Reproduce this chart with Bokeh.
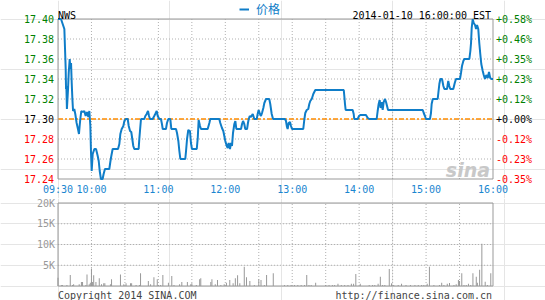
from bokeh.plotting import figure
from bokeh.layouts import column
from bokeh.models import Range1d, Legend, LegendItem
from bokeh.core.properties import value
from bokeh.embed import file_html
from bokeh.resources import INLINE

# ---------------- data ----------------
symbol = "NWS"
stamp = "2014-01-10 16:00:00 EST"
legend_label = "价格"
copyright_text = "Copyright 2014 SINA.COM"
url_text = "http://finance.sina.com.cn"
prev_close = 17.30

# minutes since 09:30
price_t = [
    0, 2.7, 3.6, 4.8, 5.7, 6.3, 6.9, 7.2, 7.5, 8,
    9, 9.6, 10.5, 11.1, 11.7, 12.3, 12.9, 13.5, 14.6, 15.5,
    16.7, 17.9, 18.8, 19.4, 20, 20.9, 22.1, 23.6, 24.8, 26,
    27.2, 28.1, 29, 29.6, 30.2, 31.1, 32.6, 34.1, 35.6, 36.5,
    37.4, 38.5, 40, 40.9, 42.1, 46, 46.9, 47.8, 49, 53.8,
    55, 55.9, 57.1, 58.6, 59.5, 60.7, 62.5, 63.4, 64.6, 65.7,
    66.6, 67.5, 68.4, 72.3, 72.9, 73.5, 74.4, 77.4, 78.3, 79.5,
    80.7, 81.6, 82.5, 84.9, 86.3, 87.2, 88.5, 89.4, 90.8, 92.3,
    93.2, 93.9, 96.8,
    97.7, 98.9, 100.7, 101.6, 105.8, 106.7, 107.9, 108.8, 109.7, 114.1,
    114.8, 115.7, 116.8, 118.3, 119.2, 120.1, 124.4, 125.3, 126.1, 127.3,
    128.2, 134.2, 135.7, 136.5, 144.6, 145.5, 147, 148.2, 149.1, 150,
    151.3, 152.2, 153, 154.2, 155.1, 156, 156.9, 158.1, 159, 159.9,
    164.1, 165, 165.9, 167, 167.9, 169.5, 170.3, 171, 171.9, 173,
    174.6, 176, 178.2, 179, 179.9, 181.1, 182, 182.9, 184.1, 185,
    186.5, 189.4, 190.3, 191.6, 192.8,
    203.5, 204.4, 205.3, 205.9, 206.8, 208, 208.9, 209.8, 219.9, 220.8,
    221.7, 223, 224.4, 225.3, 226.2, 227.5, 228.9, 229.8, 230.7, 256.2,
    256.7, 257.3, 257.9, 264.2, 265.1, 265.6, 268.7, 269.9, 271, 276.1,
    277.7, 279.1, 285.7, 286.6, 287.5, 288.4, 289.3, 290.2, 291.1, 292,
    293.2,
    294.1, 295, 295.9, 327, 327.9, 329, 329.9, 333.5, 334.4, 335,
    336, 340.4, 341, 341.9, 342.8, 344.3, 345.5, 346.4, 348.8, 349.9,
    350.8, 351.7, 354.4, 355.7, 356.8, 360.4, 361.3, 362.2, 363.4, 364.3,
    368.8, 369.7, 370.3, 370.9, 371.8, 372.7, 373.9, 374.8, 375.7, 376.8,
    377.7, 378.6, 379.5, 380.8, 381.7, 382.8, 384, 385.3, 386.4, 387.5,
    388.7, 390,
]
price_v = [
    17.40, 17.40, 17.397, 17.393, 17.39, 17.37, 17.35, 17.33, 17.333, 17.31,
    17.33, 17.346, 17.36, 17.35, 17.356, 17.336, 17.32, 17.308, 17.31, 17.305,
    17.296, 17.29, 17.285, 17.293, 17.30, 17.308, 17.307, 17.308, 17.303, 17.307,
    17.302, 17.308, 17.293, 17.266, 17.248, 17.265, 17.27, 17.27, 17.263, 17.258,
    17.248, 17.24, 17.24, 17.245, 17.25, 17.25, 17.257, 17.263, 17.27, 17.27,
    17.275, 17.285, 17.29, 17.293, 17.298, 17.30, 17.30, 17.293, 17.288, 17.287,
    17.28, 17.273, 17.27, 17.27, 17.28, 17.288, 17.30, 17.30, 17.303, 17.305,
    17.308, 17.303, 17.30, 17.30, 17.303, 17.305, 17.308, 17.303, 17.30, 17.30,
    17.295, 17.29, 17.29,
    17.296, 17.30, 17.30, 17.29, 17.29, 17.286, 17.278, 17.268, 17.26, 17.26,
    17.268, 17.28, 17.289, 17.288, 17.276, 17.27, 17.27, 17.281, 17.299, 17.293,
    17.29, 17.29, 17.296, 17.30, 17.30, 17.296, 17.291, 17.288, 17.283, 17.278,
    17.273, 17.271, 17.276, 17.27, 17.276, 17.273, 17.286, 17.295, 17.298, 17.29,
    17.29, 17.295, 17.298, 17.295, 17.29, 17.29, 17.296, 17.30, 17.303, 17.302,
    17.305, 17.30, 17.30, 17.305, 17.309, 17.305, 17.303, 17.306, 17.311, 17.316,
    17.32, 17.32, 17.315, 17.305, 17.30,
    17.30, 17.298, 17.292, 17.29, 17.296, 17.297, 17.293, 17.29, 17.29, 17.299,
    17.306, 17.309, 17.31, 17.315, 17.318, 17.32, 17.325, 17.327, 17.329, 17.329,
    17.323, 17.315, 17.309, 17.309, 17.305, 17.30, 17.30, 17.303, 17.304, 17.304,
    17.301, 17.30, 17.30, 17.308, 17.315, 17.319, 17.311, 17.317, 17.309, 17.317,
    17.32,
    17.317, 17.313, 17.309, 17.309, 17.306, 17.303, 17.30, 17.30, 17.306, 17.315,
    17.32, 17.32, 17.326, 17.335, 17.34, 17.34, 17.333, 17.33, 17.33, 17.338,
    17.333, 17.33, 17.33, 17.336, 17.34, 17.34, 17.346, 17.353, 17.358, 17.36,
    17.36, 17.368, 17.376, 17.391, 17.40, 17.396, 17.394, 17.39, 17.394, 17.39,
    17.376, 17.365, 17.355, 17.348, 17.344, 17.34, 17.344, 17.341, 17.347, 17.341,
    17.34, 17.34,
]

vol_t = [
    0, 3, 4, 8, 11, 13, 14, 19, 21, 22,
    25, 26, 28, 29, 30, 31, 32, 34, 37, 39,
    41, 42, 47, 48, 56, 59, 61, 65, 66, 70,
    73, 74, 81, 83, 86, 89, 90, 92, 94, 99,
    102, 104, 109, 111, 116, 119, 120, 124, 127, 128,
    137, 138, 141, 143, 146, 149, 151, 154, 157, 159,
    161, 163, 167, 169, 172, 176, 180, 182, 185, 187,
    193, 203, 206, 209, 212, 215, 218, 221, 223, 225,
    227, 231, 240, 243, 246, 248, 251, 254, 257, 260,
    263, 265, 267, 271, 279, 282, 284, 287, 289, 291,
    293, 297, 299, 301, 305, 308, 312, 316, 320, 323,
    326, 328, 331, 333, 337, 342, 344, 346, 349, 351,
    355, 357, 359, 360, 362, 364, 366, 368, 370, 372,
    375, 376, 378, 380, 383, 385, 388,
]
vol_v = [
    2000, 240, 240, 240, 2650, 240, 400, 400, 960, 960,
    240, 2800, 400, 800, 4200, 960, 2600, 960, 1850, 400,
    640, 640, 400, 1600, 2800, 400, 640, 640, 640, 240,
    240, 3100, 1200, 400, 2100, 1600, 240, 240, 2650, 800,
    2400, 240, 400, 960, 960, 400, 640, 240, 1600, 1850,
    960, 1600, 400, 1450, 240, 400, 800, 1450, 640, 1850,
    2600, 640, 4660, 2100, 1200, 240, 1600, 1450, 240, 2650,
    3100, 240, 240, 240, 240, 240, 240, 240, 2650, 240,
    240, 800, 240, 240, 240, 240, 560, 240, 240, 240,
    560, 560, 2900, 560, 240, 240, 240, 560, 2250, 240,
    240, 4100, 640, 240, 240, 560, 240, 240, 240, 240,
    240, 240, 560, 4660, 240, 240, 800, 240, 560, 720,
    240, 400, 1450, 1200, 3100, 240, 240, 560, 240, 3100,
    2250, 800, 3900, 10200, 1050, 240, 3100,
]

price_ticks = [17.40, 17.38, 17.36, 17.34, 17.32, 17.30, 17.28, 17.26, 17.24]
price_labels = ["17.40", "17.38", "17.36", "17.34", "17.32", "17.30", "17.28", "17.26", "17.24"]
pct_labels = ["+0.58%", "+0.46%", "+0.35%", "+0.23%", "+0.12%", "+0.00%", "-0.12%", "-0.23%", "-0.35%"]
time_ticks = [0, 30, 90, 150, 210, 270, 330, 390]
time_labels = ["09:30", "10:00", "11:00", "12:00", "13:00", "14:00", "15:00", "16:00"]
grid_times = [30, 60, 90, 120, 150, 180, 210, 240, 270, 300, 330, 360]
vol_ticks = [5000, 10000, 15000, 20000]
vol_labels = ["5K", "10K", "15K", "20K"]

assert len(price_t) == len(price_v)
assert len(vol_t) == len(vol_v)

# ---------------- layout constants (pixels) ----------------
W = 545
H1, H2 = 198, 102
LEFT, RIGHT = 57.5, 492.5          # plot-area edges
P_TOP, P_BOT = 18.5, 178.5          # price plot area inside top figure
V_TOP, V_BOT = 4.5, 87.5            # volume plot area inside bottom figure

T0, T1 = time_ticks[0], time_ticks[-1]
PMAX, PMIN = max(price_ticks), min(price_ticks)
VMAX = max(vol_ticks)

ppx = (RIGHT - LEFT) / (T1 - T0)                 # px per minute
x_lo = T0 - LEFT / ppx
x_hi = T1 + (W - RIGHT) / ppx

py = (P_BOT - P_TOP) / (PMAX - PMIN)             # px per price unit
p_lo = PMIN - (H1 - P_BOT) / py
p_hi = PMAX + P_TOP / py

vy = (V_BOT - V_TOP) / VMAX
v_lo = 0 - (H2 - V_BOT) / vy
v_hi = VMAX + V_TOP / vy

# ---------------- style ----------------
MONO = "DejaVu Sans Mono"
BLUE = "#0f7dc8"
TIME_BLUE = "#1a86d0"
FRAME = "#999999"
GRID = "#b0b0b0"
GREEN = "#008000"
RED = "#ff0000"
FS = "10px"


def tick_color(v):
    if abs(v - prev_close) < 1e-9:
        return "#000000"
    return GREEN if v > prev_close else RED


colors = [tick_color(v) for v in price_ticks]


def make_fig(h, yr):
    f = figure(width=W, height=h, x_range=Range1d(x_lo, x_hi), y_range=yr,
               output_backend="svg", toolbar_location=None,
               x_axis_location=None, y_axis_location=None, min_border=0)
    f.outline_line_color = None
    f.background_fill_color = "white"
    f.border_fill_color = "white"
    return f


# ---------------- price panel ----------------
p1 = make_fig(H1, Range1d(p_lo, p_hi))

inner_p = [t for t in price_ticks if t not in (PMAX, PMIN) and abs(t - prev_close) > 1e-9]
p1.segment(x0=[T0] * len(inner_p), x1=[T1] * len(inner_p), y0=inner_p, y1=inner_p,
           line_color=GRID, line_dash="1 2", line_width=1)
p1.segment(x0=grid_times, x1=grid_times, y0=[PMIN] * len(grid_times), y1=[PMAX] * len(grid_times),
           line_color=GRID, line_dash="1 2", line_width=1)
p1.segment(x0=[T0], x1=[T1], y0=[prev_close], y1=[prev_close],
           line_color="#ff8c00", line_dash="5 2 2 2", line_width=1.3)
p1.text(x=[T1], y=[PMIN], text=["sina"], text_color="#c8c8c8", x_offset=-3, y_offset=-9,
        text_align="right", text_baseline="alphabetic", text_font=value("DejaVu Sans"),
        text_font_size="19px", text_font_style="bold italic")
p1.quad(left=[T0], right=[T1], bottom=[PMIN], top=[PMAX], fill_color=None,
        line_color=FRAME, line_width=1)

line_r = p1.line(price_t, price_v, line_width=2, line_color=BLUE)

p1.text(x=[T0] * len(price_ticks), y=price_ticks, text=price_labels, text_color=colors,
        x_offset=-4, text_align="right", text_baseline="middle",
        text_font=value(MONO), text_font_size=FS)
p1.text(x=[T1] * len(price_ticks), y=price_ticks, text=pct_labels, text_color=colors,
        x_offset=3, text_align="left", text_baseline="middle",
        text_font=value(MONO), text_font_size=FS)
p1.text(x=time_ticks, y=[PMIN] * len(time_ticks), text=time_labels, text_color=TIME_BLUE,
        y_offset=10, text_align="center", text_baseline="middle",
        text_font=value(MONO), text_font_size=FS)
p1.text(x=[T0], y=[PMAX], text=[symbol], text_color="#000000", y_offset=-4,
        text_align="left", text_baseline="alphabetic", text_font=value(MONO), text_font_size=FS)
p1.text(x=[T1], y=[PMAX], text=[stamp], text_color="#000000", x_offset=-2, y_offset=-4,
        text_align="right", text_baseline="alphabetic", text_font=value(MONO), text_font_size=FS)

legend = Legend(items=[LegendItem(label=legend_label, renderers=[line_r])],
                location=(239, H1 - 17), orientation="horizontal",
                background_fill_alpha=0, border_line_color=None,
                padding=0, margin=0, spacing=0, glyph_width=10, glyph_height=12,
                label_height=12, label_standoff=7, label_text_font="Noto Sans CJK SC",
                label_text_font_size="12px", label_text_color=BLUE)
p1.add_layout(legend)

# ---------------- volume panel ----------------
p2 = make_fig(H2, Range1d(v_lo, v_hi))

inner_v = vol_ticks[:-1]
p2.segment(x0=[T0] * len(inner_v), x1=[T1] * len(inner_v), y0=inner_v, y1=inner_v,
           line_color=GRID, line_dash="1 2", line_width=1)
p2.segment(x0=grid_times, x1=grid_times, y0=[0] * len(grid_times), y1=[VMAX] * len(grid_times),
           line_color=GRID, line_dash="1 2", line_width=1)

p2.vbar(x=vol_t, top=vol_v, bottom=0, width=0.9, fill_color=FRAME, line_color=None)

p2.quad(left=[T0], right=[T1], bottom=[0], top=[VMAX], fill_color=None,
        line_color=FRAME, line_width=1)

p2.text(x=[T0] * len(vol_ticks), y=vol_ticks, text=vol_labels, text_color=FRAME,
        x_offset=-3, text_align="right", text_baseline="middle",
        text_font=value(MONO), text_font_size=FS)
p2.text(x=[T0], y=[0], text=[copyright_text], text_color="#444444", y_offset=9,
        text_align="left", text_baseline="alphabetic", text_font=value(MONO), text_font_size=FS)
p2.text(x=[T1], y=[0], text=[url_text], text_color="#444444", x_offset=-1, y_offset=9,
        text_align="right", text_baseline="alphabetic", text_font=value(MONO), text_font_size=FS)

layout = column(p1, p2, spacing=0)
open("out.html", "w").write(file_html(layout, INLINE))
